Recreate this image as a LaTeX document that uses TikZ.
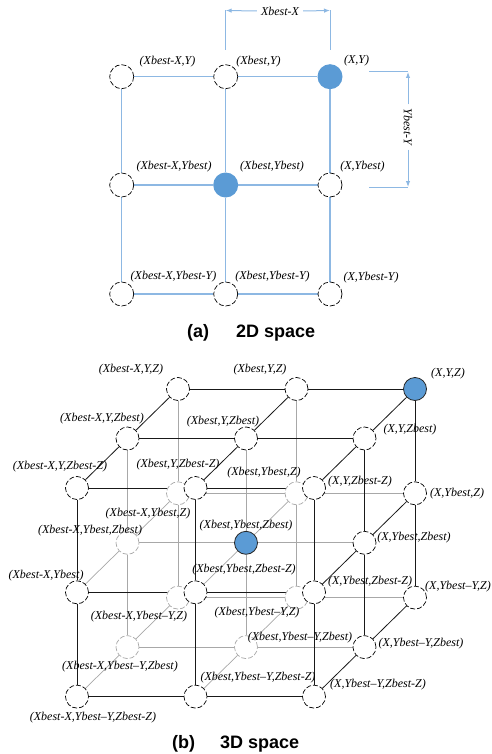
\documentclass[tikz,border=0pt]{standalone}
\usepackage{fontspec}
\setmainfont{Liberation Serif}
\newfontfamily\capfont{Liberation Sans}
\usetikzlibrary{arrows.meta}
\definecolor{gridblue}{HTML}{8DB8E3}
\definecolor{dotblue}{HTML}{5B9BD5}
\definecolor{hidgray}{HTML}{A8A8A8}
\pgfdeclarelayer{bglines}
\pgfdeclarelayer{fglines}
\pgfsetlayers{bglines,fglines,main}
\tikzset{
  lab/.style={font=\fontsize{12}{14}\selectfont\itshape, inner sep=0pt},
  captext/.style={font=\fontsize{18}{20}\selectfont\capfont\bfseries, inner sep=0pt, anchor=base west},
  ptwo/.style={circle, minimum size=24pt, inner sep=0pt, draw=black, dash pattern=on 5pt off 2pt, fill=white, line width=0.7pt},
  ptwob/.style={circle, minimum size=25pt, inner sep=0pt, fill=dotblue},
  pthree/.style={circle, minimum size=23pt, inner sep=0pt, draw=black, dash pattern=on 5pt off 2pt, fill=white, line width=0.7pt},
  pthreeh/.style={pthree, draw=hidgray},
  pthreeb/.style={circle, minimum size=23pt, inner sep=0pt, draw=black!85, fill=dotblue, line width=0.8pt},
  gl/.style={draw=gridblue, line width=1.3pt},
  dimline/.style={draw=gridblue, line width=1pt},
  dimarrow/.style={draw=gridblue, line width=1pt, -{Latex[length=6pt,width=4.5pt]}},
  bl/.style={draw=black!90, line width=0.8pt},
  hl/.style={draw=hidgray, line width=0.7pt},
}
\begin{document}
\begin{tikzpicture}[x=1pt,y=-1pt]
\useasboundingbox (0,0) rectangle (491,754);

% ---------------- 2D ----------------
\foreach \i/\x in {0/121.7,1/225.7,2/330}{
  \foreach \j/\y in {0/76.7,1/185,2/294}{
    \coordinate (ca\i\j) at (\x,\y);
  }
}
\node[ptwo]  (a00) at (ca00) {};
\node[ptwo]  (a10) at (ca10) {};
\node[ptwob] (a20) at (ca20) {};
\node[ptwo]  (a01) at (ca01) {};
\node[ptwob] (a11) at (ca11) {};
\node[ptwo]  (a21) at (ca21) {};
\node[ptwo]  (a02) at (ca02) {};
\node[ptwo]  (a12) at (ca12) {};
\node[ptwo]  (a22) at (ca22) {};

\begin{pgfonlayer}{bglines}
\foreach \j in {0,1,2}{ \draw[gl] (a0\j) -- (a1\j) -- (a2\j); }
\foreach \i in {0,1,2}{ \draw[gl] (a\i0) -- (a\i1) -- (a\i2); }
\end{pgfonlayer}

\node[lab] (la00) at (167.5,62) {(Xbest-X,Y)};
\node[lab] (la10) at (258.5,62) {(Xbest,Y)};
\node[lab] (la20) at (356.5,61) {(X,Y)};
\node[lab] (la01) at (174,167) {(Xbest-X,Ybest)};
\node[lab] (la11) at (272,167) {(Xbest,Ybest)};
\node[lab] (la21) at (362.5,167) {(X,Ybest)};
\node[lab] (la02) at (173.5,277) {(Xbest-X,Ybest-Y)};
\node[lab] (la12) at (272.5,277) {(Xbest,Ybest-Y)};
\node[lab] (la22) at (371,278) {(X,Ybest-Y)};

% dimension Xbest-X
\coordinate (dxL0) at (225.7,50);
\coordinate (dxL1) at (225.7,10.5);
\coordinate (dxR0) at (330,50);
\coordinate (dxR1) at (330,10.5);
\draw[dimline] (dxL0) -- (dxL1);
\draw[dimline] (dxR0) -- (dxR1);
\node[lab, inner xsep=4pt] (dxt) at (280,11) {Xbest-X};
\draw[dimarrow] (dxt.west) -- (dxL1);
\draw[dimarrow] (dxt.east) -- (dxR1);

% dimension Ybest-Y
\coordinate (dyT0) at (369,72);
\coordinate (dyT1) at (408,72);
\coordinate (dyB0) at (369,187);
\coordinate (dyB1) at (408,187);
\draw[dimline] (dyT0) -- (dyT1);
\draw[dimline] (dyB0) -- (dyB1);
\node[lab, inner xsep=4pt, rotate=-90] (dyt) at (408,127) {Ybest-Y};
\draw[dimarrow] (dyt.west) -- (dyT1);
\draw[dimarrow] (dyt.east) -- (dyB1);

\node[captext] (capa1) at (187,337) {(a)};
\node[captext] (capa2) at (236,337) {2D space};

% ---------------- 3D ----------------
\foreach \i in {0,1,2}{
  \foreach \j in {0,1,2}{
    \foreach \k in {0,1,2}{
      \coordinate (c\i\j\k) at ({77+118.5*\i+50.5*\k},{488+104.3*\j-49.5*\k});
    }
  }
}
% hidden nodes first
\node[pthreeh] (n012) at (c012) {};
\node[pthreeh] (n112) at (c112) {};
\node[pthreeh] (n022) at (c022) {};
\node[pthreeh] (n122) at (c122) {};
\node[pthreeh] (n011) at (c011) {};
\node[pthreeh] (n021) at (c021) {};
\node[pthreeh] (n121) at (c121) {};
\node[pthreeb] (n111) at (c111) {};
% visible nodes
\node[pthree]  (n002) at (c002) {};
\node[pthree]  (n102) at (c102) {};
\node[pthreeb] (n202) at (c202) {};
\node[pthree]  (n001) at (c001) {};
\node[pthree]  (n101) at (c101) {};
\node[pthree]  (n201) at (c201) {};
\node[pthree]  (n212) at (c212) {};
\node[pthree]  (n222) at (c222) {};
\node[pthree]  (n211) at (c211) {};
\node[pthree]  (n221) at (c221) {};
\node[pthree]  (n000) at (c000) {};
\node[pthree]  (n100) at (c100) {};
\node[pthree]  (n200) at (c200) {};
\node[pthree]  (n010) at (c010) {};
\node[pthree]  (n110) at (c110) {};
\node[pthree]  (n210) at (c210) {};
\node[pthree]  (n020) at (c020) {};
\node[pthree]  (n120) at (c120) {};
\node[pthree]  (n220) at (c220) {};

\begin{pgfonlayer}{bglines}
% hidden edges
\foreach \j in {1,2}{ \foreach \k in {1,2}{ \draw[hl] (n0\j\k) -- (n1\j\k) -- (n2\j\k); } }
\foreach \i in {0,1}{ \foreach \k in {1,2}{ \draw[hl] (n\i0\k) -- (n\i1\k) -- (n\i2\k); } }
\foreach \i in {0,1}{ \foreach \j in {1,2}{ \draw[hl] (n\i\j0) -- (n\i\j1) -- (n\i\j2); } }
\end{pgfonlayer}
\begin{pgfonlayer}{fglines}
% front face
\foreach \j in {0,1,2}{ \draw[bl] (n0\j0) -- (n1\j0) -- (n2\j0); }
\foreach \i in {0,1,2}{ \draw[bl] (n\i00) -- (n\i10) -- (n\i20); }
% top face
\foreach \k in {1,2}{ \draw[bl] (n00\k) -- (n10\k) -- (n20\k); }
\foreach \i in {0,1,2}{ \draw[bl] (n\i00) -- (n\i01) -- (n\i02); }
% right face
\foreach \k in {1,2}{ \draw[bl] (n20\k) -- (n21\k) -- (n22\k); }
\foreach \j in {1,2}{ \draw[bl] (n2\j0) -- (n2\j1) -- (n2\j2); }
\end{pgfonlayer}

\node[lab] (l002) at (131,370) {(Xbest-X,Y,Z)};
\node[lab] (l102) at (260,370) {(Xbest,Y,Z)};
\node[lab] (l202) at (448,374) {(X,Y,Z)};
\node[lab] (l001) at (102,419) {(Xbest-X,Y,Zbest)};
\node[lab] (l101) at (223,422) {(Xbest,Y,Zbest)};
\node[lab] (l201) at (410,430) {(X,Y,Zbest)};
\node[lab] (l000) at (60,467) {(Xbest-X,Y,Zbest-Z)};
\node[lab] (l100) at (178,465) {(Xbest,Y,Zbest-Z)};
\node[lab] (l200) at (360,482) {(X,Y,Zbest-Z)};
\node[lab] (l012) at (148,514) {(Xbest-X,Ybest,Z)};
\node[lab] (l112) at (264,473) {(Xbest,Ybest,Z)};
\node[lab] (l212) at (457,494) {(X,Ybest,Z)};
\node[lab] (l011) at (90,531) {(Xbest-X,Ybest,Zbest)};
\node[lab] (l111) at (246,526) {(Xbest,Ybest,Zbest)};
\node[lab] (l211) at (414,538) {(X,Ybest,Zbest)};
\node[lab] (l010) at (46,576) {(Xbest-X,Ybest)};
\node[lab] (l110) at (244,570) {(Xbest,Ybest,Zbest-Z)};
\node[lab] (l210) at (370,582) {(X,Ybest,Zbest-Z)};
\node[lab] (l022) at (139,617) {(Xbest-X,Ybest–Y,Z)};
\node[lab] (l122) at (257,613) {(Xbest,Ybest–Y,Z)};
\node[lab] (l222) at (458,587) {(X,Ybest–Y,Z)};
\node[lab] (l021) at (120,667) {(Xbest-X,Ybest–Y,Zbest)};
\node[lab] (l121) at (300,638) {(Xbest,Ybest–Y,Zbest)};
\node[lab] (l221) at (421,644) {(X,Ybest–Y,Zbest)};
\node[lab] (l020) at (93,718) {(Xbest-X,Ybest–Y,Zbest-Z)};
\node[lab] (l120) at (258,678) {(Xbest,Ybest–Y,Zbest-Z)};
\node[lab] (l220) at (378,685) {(X,Ybest–Y,Zbest-Z)};

\node[captext] (capb1) at (172,748) {(b)};
\node[captext] (capb2) at (220,748) {3D space};
\end{tikzpicture}
\end{document}
